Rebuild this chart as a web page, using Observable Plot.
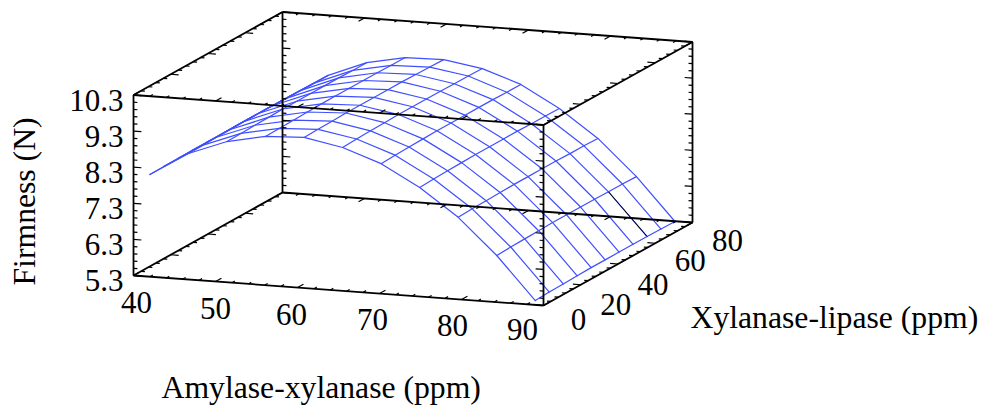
<!DOCTYPE html>
<html>
<head>
<meta charset="utf-8">
<script src="https://cdn.jsdelivr.net/npm/d3@7"></script>
<script src="https://cdn.jsdelivr.net/npm/@observablehq/plot@0.6"></script>
<style>html,body{margin:0;padding:0;background:#fff}svg{display:block}</style>
</head>
<body>
<div id="chart"></div>
<script>
// Values
const amylaseGrid = [42, 46.7, 51.4, 56.1, 60.8, 65.5, 70.2, 74.9, 79.6, 84.3, 89];
const lipaseGrid = [0, 7.5, 15, 22.5, 30, 37.5, 45, 52.5, 60, 67.5, 75];
const firmnessRows = [
  [8.13, 8.79, 9.20, 9.42, 9.47, 9.27, 8.90, 8.32, 7.57, 6.59, 5.42],
  [8.14, 8.80, 9.21, 9.43, 9.48, 9.29, 8.92, 8.34, 7.59, 6.61, 5.44],
  [8.14, 8.81, 9.22, 9.44, 9.49, 9.30, 8.93, 8.35, 7.60, 6.62, 5.45],
  [8.15, 8.81, 9.23, 9.45, 9.50, 9.31, 8.94, 8.36, 7.61, 6.63, 5.46],
  [8.15, 8.82, 9.24, 9.46, 9.50, 9.32, 8.95, 8.37, 7.62, 6.64, 5.47],
  [8.15, 8.82, 9.24, 9.46, 9.50, 9.32, 8.95, 8.37, 7.62, 6.64, 5.47],
  [8.15, 8.82, 9.24, 9.46, 9.50, 9.32, 8.95, 8.37, 7.62, 6.64, 5.47],
  [8.15, 8.81, 9.24, 9.46, 9.50, 9.32, 8.95, 8.37, 7.62, 6.64, 5.47],
  [8.15, 8.81, 9.24, 9.46, 9.49, 9.31, 8.95, 8.36, 7.61, 6.63, 5.47],
  [8.14, 8.80, 9.23, 9.45, 9.48, 9.31, 8.94, 8.36, 7.61, 6.63, 5.46],
  [8.14, 8.80, 9.23, 9.45, 9.47, 9.30, 8.94, 8.35, 7.60, 6.62, 5.455]
];
const amylaseTicks = [40, 50, 60, 70, 80, 90];
const amylaseMinor = d3.range(40, 90.01, 2);
const lipaseTicks = [0, 20, 40, 60, 80];
const lipaseMinor = d3.range(0, 80.01, 4);
const firmnessTicks = [5.3, 6.3, 7.3, 8.3, 9.3, 10.3];
const firmnessMinor = d3.range(5.3, 10.31, 0.2);
const aRange = [40, 90], bRange = [0, 80], zRange = [5.3, 10.3];

// Oblique projection of the 3-D box onto the page
const px = (a, b) => 133 + (a - 40) * 8.2 + b * 1.8625;
const py = (a, b, z) => 275 + (a - 40) * 0.6 - b * 1.0375 - (z - 5.3) * 36.1;
const P = (a, b, z) => ({x: px(a, b), y: py(a, b, z)});

const grid = firmnessRows.flatMap((row, j) => row.map((z, i) => ({i, j, ...P(amylaseGrid[i], lipaseGrid[j], z)})));
const seg = (p, q) => ({x1: p.x, y1: p.y, x2: q.x, y2: q.y});

const [a0, a1] = aRange, [b0, b1] = bRange, [z0, z1] = zRange;
const edges = [
  [[a0,b0,z0],[a1,b0,z0]], [[a0,b0,z1],[a1,b0,z1]], [[a0,b1,z0],[a1,b1,z0]], [[a0,b1,z1],[a1,b1,z1]],
  [[a0,b0,z0],[a0,b1,z0]], [[a1,b0,z0],[a1,b1,z0]], [[a0,b0,z1],[a0,b1,z1]], [[a1,b0,z1],[a1,b1,z1]],
  [[a0,b0,z0],[a0,b0,z1]], [[a1,b0,z0],[a1,b0,z1]], [[a0,b1,z0],[a0,b1,z1]], [[a1,b1,z0],[a1,b1,z1]]
].map(([p, q]) => seg(P(...p), P(...q)));

// ticks are short 3-D segments that leave the box edge inward
const tk = (p, da, db, dz) => seg(P(...p), P(p[0] + da, p[1] + db, p[2] + dz));
const isMajor = (list, v) => list.some(t => Math.abs(t - v) < 1e-6);
const ticks = [];
for (const z of firmnessMinor) {
  const m = isMajor(firmnessTicks, z) ? 2 : 1;
  ticks.push(tk([a0,b0,z],  0.48*m, 0, 0), tk([a0,b1,z],  0.48*m, 0, 0),
             tk([a1,b0,z], -0.48*m, 0, 0), tk([a1,b1,z], -0.48*m, 0, 0));
}
for (const b of lipaseMinor) {
  const m = isMajor(lipaseTicks, b) ? 2 : 1;
  for (const z of zRange) ticks.push(tk([a0,b,z], 0.48*m, 0, 0), tk([a1,b,z], -0.48*m, 0, 0));
}
for (const a of amylaseMinor) {
  const m = isMajor(amylaseTicks, a) ? 2 : 1;
  for (const z of zRange) ticks.push(tk([a,b0,z], 0, 1.6*m, 0), tk([a,b1,z], 0, -1.6*m, 0));
}

const font = "'Liberation Serif', 'Times New Roman', serif";
const zLabels = firmnessTicks.map(z => ({...P(a0, b0, z), t: z.toFixed(1)}));
const aLabels = amylaseTicks.map((a, k) => ({...P(a, b0, z0), t: String(a), off: [3, 0, -6, -7, -9, -21][k], dy: [28, 28, 28, 27, 27, 25][k]}));
const bLabels = lipaseTicks.map((b, k) => ({...P(a1, b, z0), t: String(b), dy: [15, 20, 21, 18, 19][k]}));

const textStyle = {fontFamily: font, fontSize: 31, fill: "#000", stroke: "none"};
const titleStyle = {...textStyle, fontSize: 31.7, frameAnchor: "top-left", lineAnchor: "middle"};
const plot = Plot.plot({
  width: 984, height: 408,
  marginTop: 0, marginRight: 0, marginBottom: 0, marginLeft: 0,
  style: {background: "#fff"},
  x: {domain: [0, 984], range: [0, 984], axis: null},
  y: {domain: [0, 408], range: [0, 408], axis: null},
  marks: [
    Plot.line(grid, {x: "x", y: "y", z: "j", stroke: "#3f4fff", strokeWidth: 1.2, sort: "i"}),
    Plot.line(grid, {x: "x", y: "y", z: "i", stroke: "#3f4fff", strokeWidth: 1.2, sort: "j"}),
    // the one mesh segment drawn in black in the original
    Plot.link([seg(grid.find(d => d.i === 9 && d.j === 8), grid.find(d => d.i === 10 && d.j === 8))],
      {x1: "x1", y1: "y1", x2: "x2", y2: "y2", stroke: "#000", strokeWidth: 1}),
    Plot.link(edges, {x1: "x1", y1: "y1", x2: "x2", y2: "y2", stroke: "#000", strokeWidth: 1.8}),
    Plot.link(ticks, {x1: "x1", y1: "y1", x2: "x2", y2: "y2", stroke: "#000", strokeWidth: 1.2}),
    Plot.text(zLabels, {x: "x", y: "y", text: "t", textAnchor: "end", dx: -10, dy: 6, ...textStyle}),
    Plot.text(aLabels, {x: d => d.x + d.off, y: d => d.y + d.dy, text: "t", ...textStyle}),
    Plot.text(bLabels, {x: d => d.x + 35, y: d => d.y + d.dy, text: "t", ...textStyle}),
    Plot.text(["Amylase-xylanase (ppm)"], {dx: 161, dy: 387, textAnchor: "start", ...titleStyle}),
    Plot.text(["Xylanase-lipase (ppm)"], {dx: 690, dy: 317, textAnchor: "start", ...titleStyle}),
    Plot.text(["Firmness (N)"], {dx: 24, dy: 285, rotate: -90, textAnchor: "start", ...titleStyle})
  ]
});
document.getElementById("chart").append(plot);
</script>
</body>
</html>
